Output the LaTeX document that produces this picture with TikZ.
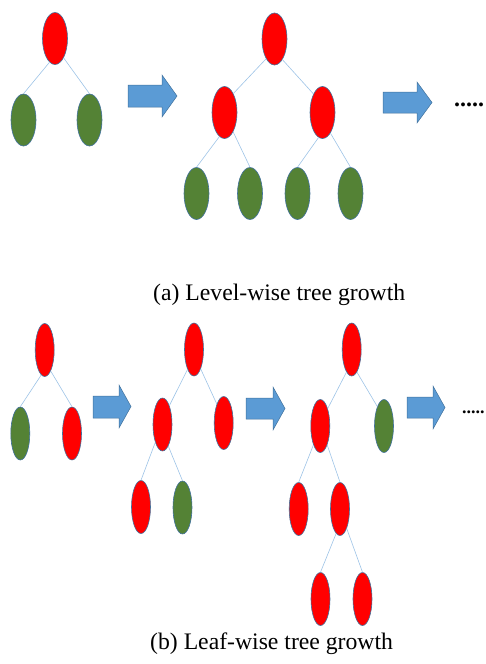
\documentclass[tikz,border=0pt]{standalone}
\usepackage{fontspec}
\setmainfont{Liberation Serif}
\usetikzlibrary{shapes.geometric}
\definecolor{nodered}{HTML}{FF0000}
\definecolor{nodegreen}{HTML}{548235}
\definecolor{rim}{HTML}{41719C}
\definecolor{edgeblue}{HTML}{9DC3E6}
\definecolor{arrowblue}{HTML}{5B9BD5}
\tikzset{
  bignode/.style={ellipse, draw=rim, line width=0.6pt, inner sep=0pt,
    minimum width=25pt, minimum height=52pt},
  smallnode/.style={ellipse, draw=rim, line width=0.6pt, inner sep=0pt,
    minimum width=19pt, minimum height=53pt},
  redfill/.style={fill=nodered},
  greenfill/.style={fill=nodegreen},
  link/.style={draw=edgeblue, line width=0.6pt},
  blockarrow/.style={fill=arrowblue, draw=rim, line width=0.5pt},
  caption/.style={font=\fontsize{23.7}{28}\selectfont, anchor=base west, inner sep=0pt},
  dotsstyle/.style={font=\fontsize{24}{28}\selectfont\bfseries, anchor=base west, inner sep=0pt},
  smalldots/.style={font=\fontsize{18}{22}\selectfont\bfseries, anchor=base west, inner sep=0pt}
}
\begin{document}
\begin{tikzpicture}[x=1pt, y=-1pt]
\useasboundingbox (0,0) rectangle (485,664);

% ---------- (a) level-wise growth ----------
% first tree
\node[bignode, redfill]   (a1r)  at (55,38.5) {};
\node[bignode, greenfill] (a1l)  at (23.5,120) {};
\node[bignode, greenfill] (a1rr) at (89.5,120) {};
\draw[link] (a1r.257) -- (a1l.north);
\draw[link] (a1r.294) -- (a1rr.north);

% arrow
\draw[blockarrow] (128,85) -- (162,85) -- (162,75) -- (177,96) -- (162,117) -- (162,107) -- (128,107) -- cycle;

% second tree
\node[bignode, redfill]   (a2r)  at (274.5,39) {};
\node[bignode, redfill]   (a2l)  at (224.5,112.5) {};
\node[bignode, redfill]   (a2rr) at (322.5,112.5) {};
\node[bignode, greenfill] (a2g1) at (196.5,193.5) {};
\node[bignode, greenfill] (a2g2) at (250,193.5) {};
\node[bignode, greenfill] (a2g3) at (297.5,193.5) {};
\node[bignode, greenfill] (a2g4) at (350.5,193.5) {};
\draw[link] (a2r.247) -- (a2l.65);
\draw[link] (a2r.291) -- (a2rr.116);
\draw[link] (a2l.258) -- (a2g1.north);
\draw[link] (a2l.294) -- (a2g2.north);
\draw[link] (a2rr.261) -- (a2g3.north);
\draw[link] (a2rr.291) -- (a2g4.north);

% arrow and continuation
\draw[blockarrow] (383,92) -- (417,92) -- (417,82) -- (432,102.5) -- (417,123) -- (417,113) -- (383,113) -- cycle;
\node[dotsstyle] (adots) at (454,106) {.....};

\node[caption] (capa) at (153,300) {(a) Level-wise tree growth};

% ---------- (b) leaf-wise growth ----------
% first tree
\node[smallnode, redfill]   (b1r)  at (44.7,350) {};
\node[smallnode, greenfill] (b1l)  at (20.3,433.5) {};
\node[smallnode, redfill]   (b1rr) at (72,433.5) {};
\draw[link] (b1r.262) -- (b1l.north);
\draw[link] (b1r.286) -- (b1rr.north);

\draw[blockarrow] (93,396) -- (119,396) -- (119,385) -- (131,406.5) -- (119,428) -- (119,418) -- (93,418) -- cycle;

% second tree
\node[smallnode, redfill]   (b2r)  at (194,349.5) {};
\node[smallnode, redfill]   (b2l)  at (162.5,424.5) {};
\node[smallnode, redfill]   (b2rr) at (223.7,423) {};
\node[smallnode, redfill]   (b2g1) at (141,507) {};
\node[smallnode, greenfill] (b2g2) at (182.5,507.5) {};
\draw[link] (b2r.252) -- (b2l.70);
\draw[link] (b2r.289) -- (b2rr.110);
\draw[link] (b2l.248) -- (b2g1.north);
\draw[link] (b2l.285) -- (b2g2.north);

\draw[blockarrow] (246,398) -- (273,398) -- (273,387) -- (285,408.5) -- (273,430) -- (273,419) -- (246,419) -- cycle;

% third tree
\node[smallnode, redfill]   (b3r)  at (351.7,349.5) {};
\node[smallnode, redfill]   (b3l)  at (320.3,426) {};
\node[smallnode, greenfill] (b3rr) at (384,426) {};
\node[smallnode, redfill]   (b3g1) at (298.7,509) {};
\node[smallnode, redfill]   (b3g2) at (340,509) {};
\node[smallnode, redfill]   (b3h1) at (320.5,599) {};
\node[smallnode, redfill]   (b3h2) at (362.5,599) {};
\draw[link] (b3r.257) -- (b3l.67);
\draw[link] (b3r.283) -- (b3rr.109);
\draw[link] (b3l.250) -- (b3g1.north);
\draw[link] (b3l.290) -- (b3g2.north);
\draw[link] (b3g2.261) -- (b3h1.north);
\draw[link] (b3g2.289) -- (b3h2.north);

\draw[blockarrow] (407,397) -- (433,397) -- (433,386) -- (445,407.5) -- (433,429) -- (433,418) -- (407,418) -- cycle;
\node[smalldots] (bdots) at (462,413.5) {.....};

\node[caption] (capb) at (150,649.5) {(b) Leaf-wise tree growth};
\end{tikzpicture}
\end{document}
